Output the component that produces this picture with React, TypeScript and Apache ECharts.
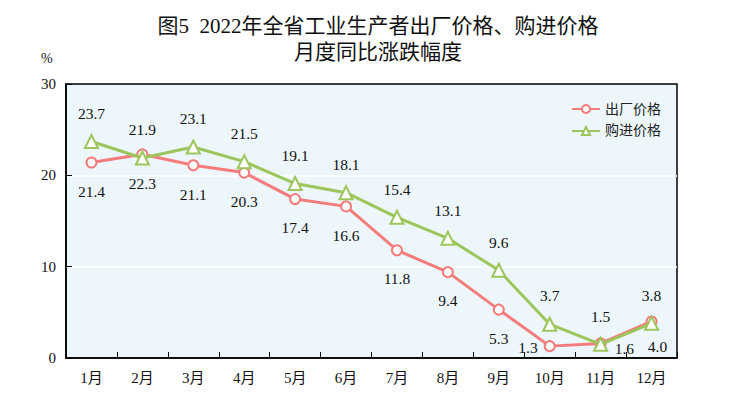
import React, { useEffect, useRef } from "react";
import * as echarts from "echarts";

const months = ["1月", "2月", "3月", "4月", "5月", "6月", "7月", "8月", "9月", "10月", "11月", "12月"];
const factoryPrice = [21.4, 22.3, 21.1, 20.3, 17.4, 16.6, 11.8, 9.4, 5.3, 1.3, 1.6, 4.0];
const purchasePrice = [23.7, 21.9, 23.1, 21.5, 19.1, 18.1, 15.4, 13.1, 9.6, 3.7, 1.5, 3.8];
const seriesNames = ["出厂价格", "购进价格"];
const titleText = "图5  2022年全省工业生产者出厂价格、购进价格\n月度同比涨跌幅度";

const RED = "#f47c7c";
const GREEN = "#9cc65c";
const FONT = "'Liberation Serif', 'Times New Roman', 'Noto Sans CJK SC', serif";

export default function App() {
  const ref = useRef<HTMLDivElement>(null);
  useEffect(() => {
    if (!ref.current) return;
    const chart = echarts.init(ref.current, null, { renderer: "svg" });
    const labelBase = { show: true, fontSize: 15.5, color: "#111", fontFamily: FONT, formatter: (p: any) => Number(p.value).toFixed(1) };
    const redData = factoryPrice.map((v, i) => {
      let label: any = { position: "bottom", distance: 15 };
      if (i === 9) label = { position: "left", distance: 8, offset: [2, 1] };
      if (i === 10) label = { position: "right", distance: 8, offset: [0, 5] };
      if (i === 11) label = { position: "bottom", distance: 11, offset: [6, 0] };
      return { value: v, label };
    });
    const greenData = purchasePrice.map((v) => ({ value: v, label: { position: "top", distance: 13 } }));
    chart.setOption({
      animation: false,
      backgroundColor: "#fff",
      textStyle: { fontFamily: FONT },
      title: {
        text: titleText,
        left: 373,
        top: 8,
        textAlign: "center",
        textStyle: { fontSize: 21, fontWeight: "normal", color: "#111", lineHeight: 26, fontFamily: FONT },
      },
      graphic: [
        { type: "text", left: 41, top: 51, style: { text: "%", fontSize: 14, fill: "#111", fontFamily: FONT } },
      ],
      legend: {
        orient: "vertical",
        left: 566,
        top: 97,
        itemWidth: 28,
        itemHeight: 10,
        itemGap: 8,
        textStyle: { fontSize: 14, color: "#222", fontFamily: FONT },
        data: seriesNames,
      },
      grid: {
        left: 66,
        right: 55,
        top: 84,
        bottom: 41,
        show: true,
        backgroundColor: "#edf6fa",
        borderColor: "#000",
        borderWidth: 1.5,
      },
      xAxis: {
        type: "category",
        data: months,
        boundaryGap: true,
        axisLine: { show: true, lineStyle: { color: "#000", width: 1.5 } },
        axisTick: { show: true, inside: true, length: 6, interval: 0, lineStyle: { color: "#000" } },
        axisLabel: { fontSize: 15, color: "#111", margin: 12, fontFamily: FONT, interval: 0 },
      },
      yAxis: {
        type: "value",
        min: 0,
        max: 30,
        interval: 10,
        axisLine: { show: true, lineStyle: { color: "#000", width: 1.5 } },
        axisTick: { show: true, inside: true, length: 6, lineStyle: { color: "#000" } },
        axisLabel: { fontSize: 15, color: "#111", margin: 10, fontFamily: FONT },
        splitLine: { show: true, showMinLine: false, showMaxLine: false, lineStyle: { color: "#fff", width: 1.5 } },
      },
      series: [
        {
          name: seriesNames[0],
          type: "line",
          data: redData,
          symbol: "circle",
          symbolSize: 10,
          lineStyle: { color: RED, width: 3 },
          itemStyle: { color: "#fff", borderColor: RED, borderWidth: 2 },
          label: labelBase,
          z: 3,
        },
        {
          name: seriesNames[1],
          type: "line",
          data: greenData,
          symbol: "triangle",
          symbolSize: 13,
          lineStyle: { color: GREEN, width: 3 },
          itemStyle: { color: "#fff", borderColor: GREEN, borderWidth: 2 },
          label: labelBase,
          z: 4,
        },
      ],
    });
    return () => chart.dispose();
  }, []);
  return <div ref={ref} style={{ position: "fixed", left: 0, top: 0, width: 732, height: 399 }} />;
}
